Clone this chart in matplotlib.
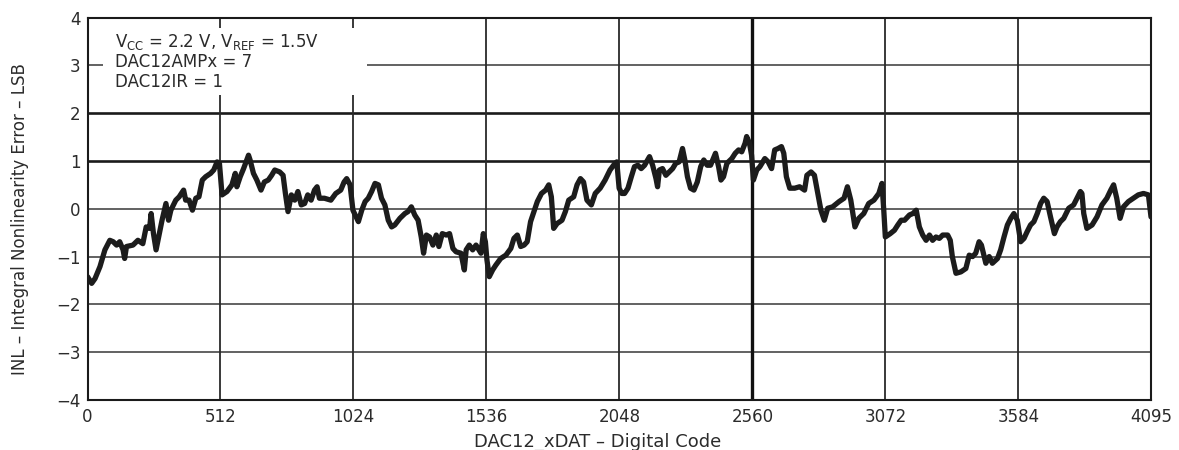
import matplotlib
matplotlib.use("Agg")
import matplotlib.pyplot as plt
from matplotlib.patches import Rectangle

# ---------------- data ----------------
codes = [
    0, 16, 29, 48, 67, 86, 99, 112, 124, 137, 143, 150, 175, 194, 213, 226, 239, 245, 254, 264,
    274, 287, 302, 312, 321, 340, 353, 370, 378, 391, 404, 417, 429, 442, 455, 474, 486, 499, 508, 518,
    537, 556, 569, 575, 588, 601, 620, 626, 639, 652, 668, 681, 696, 709, 721, 740, 753, 762, 772, 785,
    798, 810, 823, 836, 848, 861, 874, 884, 893, 912, 937, 956, 975, 988, 998, 1011, 1022,
    1037, 1043, 1056, 1069, 1081, 1094, 1107, 1120, 1132, 1145, 1158, 1171, 1183, 1203, 1222, 1234, 1247, 1260,
    1273, 1285, 1294, 1305, 1317, 1330, 1343, 1353, 1366, 1381, 1394, 1407, 1419, 1438, 1451, 1458, 1470, 1483,
    1496, 1515, 1524, 1532, 1538, 1547, 1560, 1572, 1591, 1611, 1630, 1642, 1655, 1668, 1681, 1693, 1706, 1719,
    1732, 1748, 1764, 1776, 1786, 1795, 1808, 1827, 1840, 1853, 1872, 1885, 1898, 1910, 1923, 1940, 1955, 1974,
    1993, 2012, 2031, 2038, 2047, 2057,
    2068, 2081, 2094, 2106, 2119, 2132, 2145, 2164, 2176, 2189, 2195, 2202, 2214, 2227, 2240, 2253, 2265, 2278,
    2291, 2300, 2310, 2322, 2335, 2348, 2361, 2373, 2386, 2399, 2418, 2430, 2439, 2449, 2462, 2481, 2494, 2507,
    2519, 2532, 2538, 2549, 2557, 2564, 2577, 2589, 2608, 2621, 2634, 2646, 2659, 2672, 2681, 2691, 2704, 2723,
    2742, 2761, 2770, 2786, 2799, 2812, 2824, 2837, 2850, 2869, 2894, 2913, 2926, 2939, 2955, 2970, 2989, 3008,
    3028, 3047, 3059, 3066, 3072, 3091,
    3107, 3120, 3133, 3146, 3165, 3178, 3191, 3203, 3216, 3229, 3242, 3254, 3267, 3280, 3293, 3312, 3322, 3330,
    3344, 3363, 3382, 3395, 3408, 3420, 3433, 3442, 3459, 3472, 3484, 3504, 3516, 3529, 3542, 3555, 3567, 3580,
    3593, 3606, 3618, 3631, 3644, 3657, 3670, 3682, 3695, 3708, 3723, 3733, 3746, 3759, 3778, 3797, 3810, 3823,
    3829, 3836, 3848, 3868, 3887, 3906, 3925, 3940, 3951, 3963, 3976, 3989, 4008, 4027, 4046, 4066, 4085, 4095,
]
inl_lsb = [
    -1.42, -1.56, -1.46, -1.21, -0.86, -0.66, -0.69, -0.76, -0.69, -0.86, -1.04, -0.79, -0.76, -0.66, -0.73, -0.38, -0.41, -0.10, -0.52, -0.86,
    -0.59, -0.24, 0.11, -0.24, -0.03, 0.18, 0.25, 0.39, 0.18, 0.18, -0.03, 0.22, 0.25, 0.60, 0.67, 0.74, 0.81, 0.98, 0.95, 0.29,
    0.36, 0.50, 0.74, 0.46, 0.67, 0.84, 1.12, 1.02, 0.74, 0.60, 0.39, 0.56, 0.60, 0.70, 0.81, 0.77, 0.70, 0.32, -0.06, 0.29,
    0.18, 0.36, 0.08, 0.11, 0.29, 0.18, 0.39, 0.46, 0.22, 0.22, 0.18, 0.32, 0.39, 0.56, 0.63, 0.50, -0.03,
    -0.20, -0.27, -0.03, 0.15, 0.22, 0.36, 0.53, 0.50, 0.22, 0.08, -0.24, -0.38, -0.34, -0.20, -0.10, -0.06, 0.04, -0.13,
    -0.24, -0.59, -0.93, -0.55, -0.59, -0.76, -0.55, -0.79, -0.52, -0.55, -0.52, -0.83, -0.90, -0.93, -1.28, -0.86, -0.76, -0.86,
    -0.76, -0.93, -0.52, -0.69, -1.07, -1.42, -1.28, -1.18, -1.04, -0.97, -0.83, -0.62, -0.55, -0.79, -0.76, -0.69, -0.27, -0.06,
    0.15, 0.32, 0.39, 0.50, 0.25, -0.41, -0.31, -0.24, -0.06, 0.18, 0.25, 0.50, 0.63, 0.56, 0.18, 0.08, 0.32, 0.43,
    0.60, 0.81, 0.95, 0.98, 0.43, 0.32,
    0.32, 0.43, 0.67, 0.88, 0.91, 0.84, 0.91, 1.09, 0.91, 0.63, 0.46, 0.81, 0.84, 0.70, 0.77, 0.84, 0.95, 0.98,
    1.26, 1.02, 0.67, 0.43, 0.39, 0.56, 0.88, 1.02, 0.91, 0.91, 1.16, 0.88, 0.60, 0.67, 0.95, 1.05, 1.16, 1.23,
    1.19, 1.37, 1.51, 1.37, 1.12, 0.60, 0.81, 0.88, 1.05, 0.98, 0.84, 1.23, 1.26, 1.30, 1.16, 0.67, 0.43, 0.43,
    0.46, 0.39, 0.70, 0.77, 0.70, 0.32, -0.03, -0.24, 0.01, 0.04, 0.15, 0.22, 0.46, 0.18, -0.38, -0.20, -0.10, 0.11,
    0.18, 0.32, 0.53, -0.03, -0.59, -0.52,
    -0.45, -0.34, -0.24, -0.24, -0.13, -0.10, -0.03, -0.38, -0.55, -0.66, -0.55, -0.66, -0.59, -0.62, -0.55, -0.55, -0.66, -1.00,
    -1.35, -1.32, -1.25, -0.97, -1.00, -0.93, -0.69, -0.76, -1.14, -1.00, -1.14, -1.04, -0.86, -0.59, -0.34, -0.20, -0.10, -0.24,
    -0.69, -0.62, -0.48, -0.34, -0.27, -0.10, 0.11, 0.22, 0.15, -0.17, -0.52, -0.38, -0.27, -0.20, 0.01, 0.08, 0.22, 0.36,
    0.32, -0.10, -0.41, -0.34, -0.17, 0.08, 0.22, 0.39, 0.50, 0.22, -0.20, 0.04, 0.15, 0.22, 0.29, 0.32, 0.29, -0.17,
]

x_ticks = [0, 512, 1024, 1536, 2048, 2560, 3072, 3584, 4095]
y_ticks = [-4, -3, -2, -1, 0, 1, 2, 3, 4]
x_label = "DAC12_xDAT \u2013 Digital Code"
y_label = "INL \u2013 Integral Nonlinearity Error \u2013 LSB"
note_lines = [
    r"V$_{\mathregular{CC}}$ = 2.2 V, V$_{\mathregular{REF}}$ = 1.5V",
    "DAC12AMPx = 7",
    "DAC12IR = 1",
]

# ---------------- figure ----------------
plt.rcParams["font.family"] = ["DejaVu Sans"]
fig = plt.figure(figsize=(11.79, 4.5), dpi=100)
ax = fig.add_axes([0.07422, 0.11111, 0.90204, 0.85])

ax.set_xlim(x_ticks[0], x_ticks[-1])
ax.set_ylim(y_ticks[0], y_ticks[-1])
ax.set_xticks(x_ticks)
ax.set_yticks(y_ticks)
ax.tick_params(axis="both", length=0, labelsize=12, labelcolor="#2b2b2b")
ax.tick_params(axis="x", pad=6)
ax.tick_params(axis="y", pad=5)

# grid lines
for y in y_ticks[1:-1]:
    if y in (1, 2):
        ax.axhline(y, color="#1a1a1a", lw=1.9, zorder=1)
    else:
        ax.axhline(y, color="#555555", lw=1.3, zorder=1)
for x in x_ticks[1:-1]:
    if x == 2560:
        ax.axvline(x, color="#111111", lw=2.4, zorder=1)
    else:
        ax.axvline(x, color="#2a2a2a", lw=1.3, zorder=1)

for sp in ax.spines.values():
    sp.set_color("#1a1a1a")
    sp.set_linewidth(1.5)
    sp.set_zorder(5)

# white area behind the condition notes
ax.add_patch(Rectangle((0.0146, 0.7974), 0.2482, 0.1751, transform=ax.transAxes,
                       facecolor="white", edgecolor="none", zorder=2))

# the INL curve
ax.plot(codes, inl_lsb, color="#1c1c1c", lw=3.8, solid_joinstyle="round",
        solid_capstyle="round", zorder=3)

note_y = [0.9237, 0.8714, 0.8175]
for txt, yy in zip(note_lines, note_y):
    ax.text(0.0255, yy, txt, transform=ax.transAxes, fontsize=12, color="#2b2b2b",
            va="baseline", ha="left", zorder=4)

fig.text(598 / 1179, 1 - 447 / 450, x_label, ha="center", va="baseline",
         fontsize=13, color="#2b2b2b")
fig.text(20.5 / 1179, 1 - 219 / 450, y_label, ha="center", va="center",
         rotation=90, fontsize=12, color="#2b2b2b")

fig.savefig("out.png", dpi=100)
